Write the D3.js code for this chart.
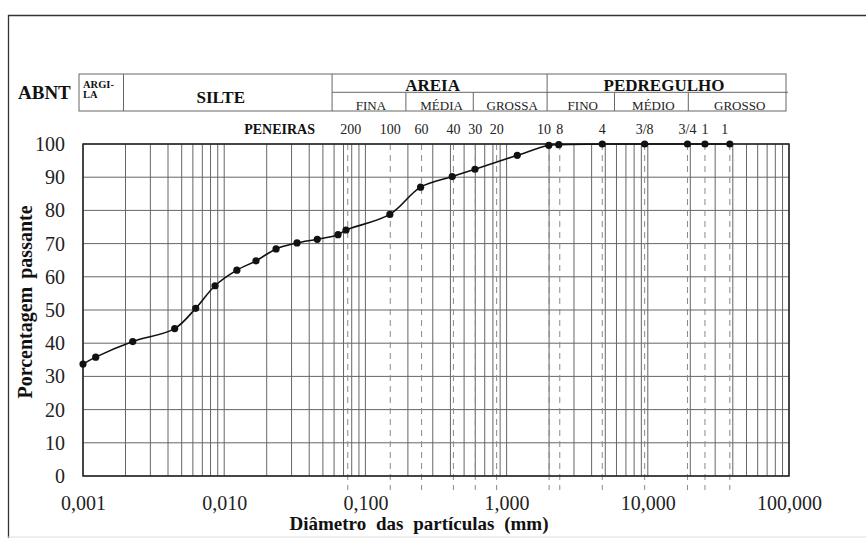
<!DOCTYPE html>
<html><head><meta charset="utf-8">
<script src="https://cdn.jsdelivr.net/npm/d3@7"></script>
<style>html,body{margin:0;padding:0;background:#fff;}svg{display:block;}</style>
</head><body>
<svg id="chart" width="866" height="538"></svg>
<script>
// ---- data ----
const diameters = [0.001, 0.00123, 0.00225, 0.00446, 0.00628, 0.00861, 0.0123, 0.0168, 0.0233, 0.0328, 0.0456, 0.064, 0.0729, 0.149, 0.246, 0.412, 0.597, 1.19, 1.99, 2.34, 4.76, 9.5, 19.1, 25.4, 38.1];
const passing   = [33.7, 35.8, 40.5, 44.4, 50.5, 57.3, 62.0, 64.8, 68.4, 70.2, 71.3, 72.7, 74.1, 78.8, 87.0, 90.2, 92.4, 96.6, 99.6, 99.8, 100, 100, 100, 100, 100];
const sieveSizes  = [0.075, 0.15, 0.25, 0.42, 0.6, 0.85, 2.0, 2.38, 4.76, 9.5, 19.1, 25.4, 38.1];
const sieveLabels = ["200", "100", "60", "40", "30", "20", "10", "8", "4", "3/8", "3/4", "1", "1"];
const yTicks = [0, 10, 20, 30, 40, 50, 60, 70, 80, 90, 100];
const xTicks = [0.001, 0.01, 0.1, 1, 10, 100];
// ABNT classification: top row [label, from, to], bottom row
const topZones = [["ARGI-|LA", 0.001, 0.002], ["SILTE", 0.002, 0.06], ["AREIA", 0.06, 2.0], ["PEDREGULHO", 2.0, 100]];
const subZones = [["FINA", 0.06, 0.2], ["MÉDIA", 0.2, 0.6], ["GROSSA", 0.6, 2.0], ["FINO", 2.0, 6.0], ["MÉDIO", 6.0, 20], ["GROSSO", 20, 100]];

const svg = d3.select("#chart");
const F = "'Liberation Serif','Times New Roman',serif";
const x = d3.scaleLog().domain([0.001, 100]).range([83, 789]);
const y = d3.scaleLinear().domain([0, 100]).range([476, 144]);

svg.append("rect").attr("width", 866).attr("height", 538).attr("fill", "#fff");
// outer frame
svg.append("path").attr("d", "M8.5,540 V15.5 H870").attr("fill", "none").attr("stroke", "#333").attr("stroke-width", 1.3);
svg.append("line").attr("x1", 8).attr("x2", 866).attr("y1", 537).attr("y2", 537).attr("stroke", "#ddd");

// grid: log minor lines
const gridX = [];
for (let k = -3; k <= 1; k++) for (let m = 1; m <= 9; m++) gridX.push(m * Math.pow(10, k));
gridX.push(100);
svg.append("g").selectAll("line").data(gridX).join("line")
  .attr("x1", d => x(d)).attr("x2", d => x(d)).attr("y1", y(100)).attr("y2", y(0))
  .attr("stroke", "#666").attr("stroke-width", 1);
svg.append("g").selectAll("line").data(yTicks).join("line")
  .attr("x1", x(0.001)).attr("x2", x(100)).attr("y1", d => y(d)).attr("y2", d => y(d))
  .attr("stroke", "#666").attr("stroke-width", 1);

// sieve dashed lines
svg.append("g").selectAll("line").data(sieveSizes).join("line")
  .attr("x1", d => x(d)).attr("x2", d => x(d)).attr("y1", y(100)).attr("y2", 490)
  .attr("stroke", "#8a8a8a").attr("stroke-width", 1).attr("stroke-dasharray", "6,5");

// plot frame
svg.append("rect").attr("x", x(0.001)).attr("y", y(100)).attr("width", x(100) - x(0.001)).attr("height", y(0) - y(100))
  .attr("fill", "none").attr("stroke", "#222").attr("stroke-width", 1.5);

// axes
const ya = svg.append("g").attr("transform", `translate(${x(0.001)},0)`)
  .call(d3.axisLeft(y).tickValues(yTicks).tickSize(0).tickPadding(18));
ya.select(".domain").remove();
ya.selectAll("text").attr("font-family", F).attr("font-size", 20).attr("fill", "#222");

const xa = svg.append("g").attr("transform", `translate(0,${y(0)})`)
  .call(d3.axisBottom(x).tickValues(xTicks).tickSize(0).tickPadding(20)
    .tickFormat(d => d3.format(".3f")(d).replace(".", ",")));
xa.select(".domain").remove();
xa.selectAll("text").attr("font-family", F).attr("font-size", 20).attr("fill", "#222");

// axis titles
svg.append("text").attr("x", 419).attr("y", 530).attr("text-anchor", "middle")
  .attr("font-family", F).attr("font-size", 19).attr("font-weight", "bold").attr("fill", "#111")
  .attr("word-spacing", 5).text("Diâmetro das partículas (mm)");
svg.append("text").attr("transform", "translate(32,302) rotate(-90)").attr("text-anchor", "middle")
  .attr("font-family", F).attr("font-size", 20).attr("font-weight", "bold").attr("fill", "#111")
  .attr("word-spacing", 3).text("Porcentagem passante");

// sieve labels
svg.append("text").attr("x", 315).attr("y", 134).attr("text-anchor", "end")
  .attr("font-family", F).attr("font-size", 14).attr("font-weight", "bold").attr("fill", "#111").text("PENEIRAS");
svg.append("g").selectAll("text").data(sieveSizes).join("text")
  .attr("x", (d, i) => x(d) + (i === 6 ? -5 : i === 0 ? 3 : i === 12 ? -5 : 0)).attr("y", 134).attr("text-anchor", "middle")
  .attr("font-family", F).attr("font-size", 14).attr("fill", "#222").text((d, i) => sieveLabels[i]);

// ABNT table
const off = -2, tTop = 74, tMid = 92.3, tBot = 111;
const tb = svg.append("g");
tb.append("text").attr("x", 18).attr("y", 99).attr("font-family", F).attr("font-size", 19)
  .attr("font-weight", "bold").attr("fill", "#111").text("ABNT");
tb.append("rect").attr("x", x(0.001) + off - 2).attr("y", tTop).attr("width", x(100) - x(0.001) + 1)
  .attr("height", tBot - tTop).attr("fill", "none").attr("stroke", "#666");
tb.append("line").attr("x1", x(0.06) + off).attr("x2", x(100) + off + 1).attr("y1", tMid).attr("y2", tMid).attr("stroke", "#666");
tb.selectAll("line.tv").data(topZones.slice(1)).join("line").attr("class", "tv")
  .attr("x1", d => x(d[1]) + off).attr("x2", d => x(d[1]) + off).attr("y1", tTop).attr("y2", tBot).attr("stroke", "#666");
tb.selectAll("line.sv").data(subZones.filter(d => d[1] !== 0.06 && d[1] !== 2.0)).join("line").attr("class", "sv")
  .attr("x1", d => x(d[1]) + off).attr("x2", d => x(d[1]) + off).attr("y1", tMid).attr("y2", tBot).attr("stroke", "#666");
// ARGILA label (two lines)
const arg = topZones[0][0].split("|");
tb.selectAll("text.arg").data(arg).join("text").attr("class", "arg")
  .attr("x", x(0.001)).attr("y", (d, i) => 88 + i * 10).attr("font-family", F).attr("font-size", 10.5)
  .attr("font-weight", "bold").attr("fill", "#111").text(d => d);
// SILTE
tb.append("text").attr("x", (x(0.002) + x(0.06)) / 2 - 9).attr("y", 102.5).attr("text-anchor", "middle")
  .attr("font-family", F).attr("font-size", 17).attr("font-weight", "bold").attr("fill", "#111").text(topZones[1][0]);
tb.selectAll("text.tz").data(topZones.slice(2)).join("text").attr("class", "tz")
  .attr("x", (d, i) => (x(d[1]) + x(d[2])) / 2 + off + (i === 0 ? -7 : -3)).attr("y", 90.5).attr("text-anchor", "middle")
  .attr("font-family", F).attr("font-size", 17).attr("font-weight", "bold").attr("fill", "#111").text(d => d[0]);
tb.selectAll("text.sz").data(subZones).join("text").attr("class", "sz")
  .attr("x", d => (x(d[1]) + x(d[2])) / 2 + off + 2).attr("y", 109.5).attr("text-anchor", "middle")
  .attr("font-family", F).attr("font-size", 13).attr("fill", "#222").text(d => d[0]);

// curve + points
const pts = diameters.map((d, i) => [x(d), y(passing[i])]);
svg.append("path").attr("d", d3.line().curve(d3.curveCatmullRom.alpha(0.5))(pts))
  .attr("fill", "none").attr("stroke", "#111").attr("stroke-width", 1.6);
svg.append("g").selectAll("circle").data(pts).join("circle")
  .attr("cx", d => d[0]).attr("cy", d => d[1]).attr("r", 3.6).attr("fill", "#111");
</script>
</body></html>
